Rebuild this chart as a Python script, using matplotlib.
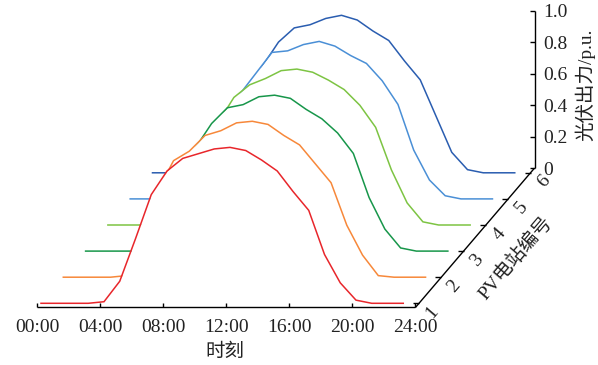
import numpy as np
import matplotlib
matplotlib.use("Agg")
import matplotlib.pyplot as plt

# ---- data ----
hours = np.arange(24)  # 00:00 ... 23:00
station_labels = ["1", "2", "3", "4", "5", "6"]
pv1 = [0, 0, 0, 0, 0.01, 0.14, 0.41, 0.69, 0.84, 0.92, 0.95, 0.98, 0.99, 0.97, 0.91, 0.84, 0.71, 0.59, 0.31, 0.13, 0.02, 0, 0, 0]
pv2 = [0, 0, 0, 0, 0.01, 0.14, 0.55, 0.74, 0.80, 0.90, 0.93, 0.98, 0.99, 0.97, 0.90, 0.84, 0.72, 0.60, 0.33, 0.14, 0.01, 0, 0, 0]
pv3 = [0, 0, 0, 0, 0.01, 0.14, 0.40, 0.66, 0.81, 0.91, 0.93, 0.98, 0.99, 0.97, 0.90, 0.84, 0.75, 0.62, 0.34, 0.14, 0.02, 0, 0, 0]
pv4 = [0, 0, 0, 0, 0.01, 0.14, 0.42, 0.65, 0.81, 0.89, 0.93, 0.98, 0.99, 0.97, 0.92, 0.86, 0.76, 0.62, 0.35, 0.14, 0.02, 0, 0, 0]
pv5 = [0, 0, 0, 0, 0.01, 0.14, 0.40, 0.67, 0.80, 0.93, 0.94, 0.98, 1.00, 0.97, 0.91, 0.86, 0.75, 0.60, 0.31, 0.12, 0.02, 0, 0, 0]
pv6 = [0, 0, 0, 0, 0.01, 0.14, 0.40, 0.68, 0.83, 0.92, 0.94, 0.98, 1.00, 0.97, 0.90, 0.84, 0.71, 0.59, 0.36, 0.13, 0.02, 0, 0, 0]
series = [pv1, pv2, pv3, pv4, pv5, pv6]
colors = ["#e8262b", "#f7883a", "#17964a", "#7dc443", "#4a8fd6", "#2a5db0"]
time_ticks = [0, 4, 8, 12, 16, 20, 24]
time_labels = ["00:00", "04:00", "08:00", "12:00", "16:00", "20:00", "24:00"]
z_ticks = [0, 0.2, 0.4, 0.6, 0.8, 1.0]
z_labels = ["0", "0.2", "0.4", "0.6", "0.8", "1.0"]

# ---- oblique projection (station axis drawn as a shear) ----
DX = 22.3 / 15.75      # horizontal shift per station (hours)
DY = 26.1 / 157.5      # vertical shift per station (p.u.)
S0, S1 = -0.16, 5.18   # extent of the station axis

serif = ["Liberation Serif", "DejaVu Serif"]
mixed = ["Liberation Serif", "Noto Sans CJK SC", "DejaVu Sans"]
FS = 14

fig = plt.figure(figsize=(5.98, 3.65), dpi=100)
ax = fig.add_axes([0, 0, 1, 1])
ax.set_xlim(-41 / 15.75, 557 / 15.75)
ax.set_ylim((303.3 - 365) / 157.5, 303.3 / 157.5)
ax.axis("off")

n = len(series)
for s in range(n - 1, -1, -1):
    vals = np.asarray(series[s], dtype=float)
    X = hours + s * DX
    Y = vals + s * DY
    z = 2 * (n - s)
    ax.fill_between(X, s * DY, Y, color="white", lw=0, zorder=z)
    ax.plot(X, Y, color=colors[s], lw=1.1, zorder=z + 1, solid_joinstyle="miter")

axkw = dict(color="black", lw=1.0, zorder=50, solid_capstyle="butt")
# time axis
x0 = S0 * DX
y0 = S0 * DY
ax.plot([time_ticks[0] + x0, time_ticks[-1] + x0], [y0, y0], **axkw)
for h, lab in zip(time_ticks, time_labels):
    ax.plot([h + x0, h + x0], [y0, y0 + 4.5 / 157.5], **axkw)
    ax.text(h + x0, y0 - 24.2 / 157.5, lab, ha="center", va="baseline",
            fontsize=FS, family=serif, color="#222222")
ax.text(11.7, -0.306, "时刻", ha="center", va="center", fontsize=FS,
        family=["Noto Sans CJK SC", "DejaVu Sans"], color="#222222")

# station axis
sa = np.array([S0, S1])
ax.plot(24 + sa * DX, sa * DY, **axkw)
for k, lab in enumerate(station_labels):
    ax.plot([24 + k * DX - 6 / 15.75, 24 + k * DX], [k * DY, k * DY], **axkw)
    ax.text(24 + k * DX + 13 / 15.75, k * DY - 9 / 157.5, lab, ha="center", va="center",
            rotation=49.5, rotation_mode="anchor", fontsize=FS, family=serif, color="#222222")
sl = 2.8
ax.text(24 + sl * DX + 33.6 / 15.75, sl * DY - 27.8 / 157.5, "PV电站编号", ha="center", va="center",
        rotation=49.5, rotation_mode="anchor", fontsize=FS, family=mixed, color="#222222")

# vertical axis
xv = 24 + S1 * DX
yv = S1 * DY
ax.plot([xv, xv], [yv, yv + 1.0], **axkw)
for zt, lab in zip(z_ticks, z_labels):
    ax.plot([xv - 5 / 15.75, xv], [yv + zt, yv + zt], **axkw)
    ax.text(xv + 9 / 15.75, yv + zt - 2 / 157.5, lab, ha="left", va="center",
            fontsize=FS, family=serif, color="#222222")
ax.text((585 - 41) / 15.75, (303.3 - 85) / 157.5, "光伏出力/p.u.", ha="center", va="center",
        rotation=90, fontsize=FS, family=mixed, color="#222222")

fig.savefig("out.png", dpi=100)
